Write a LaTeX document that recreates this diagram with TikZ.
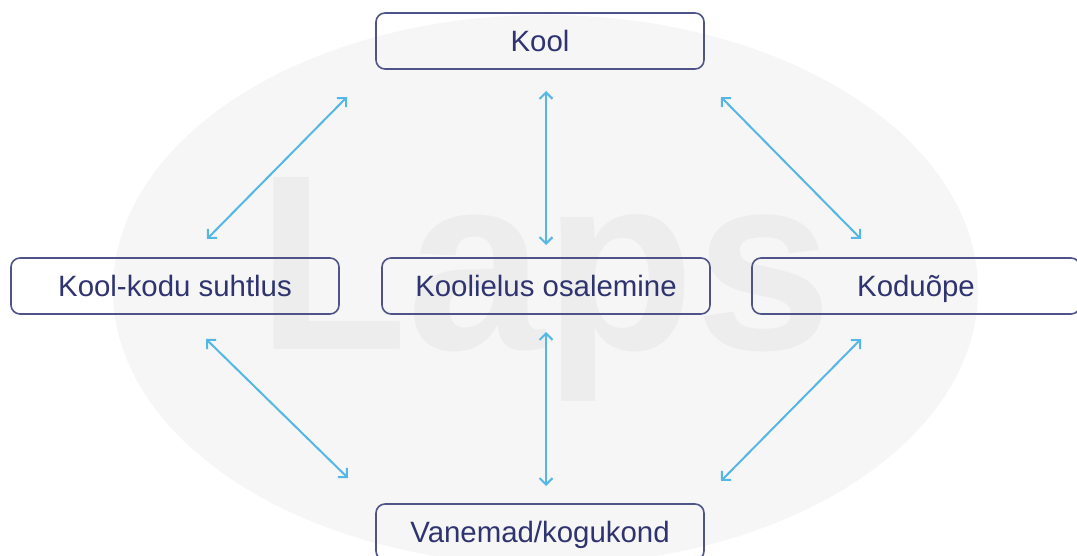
\documentclass[tikz,border=0pt]{standalone}
\usepackage{fontspec}
\setmainfont{Liberation Sans}
\usetikzlibrary{arrows.meta}
\definecolor{boxline}{HTML}{4F5488}
\definecolor{boxtext}{HTML}{2F3470}
\definecolor{arrowblue}{HTML}{55B7E6}
\definecolor{ovalfill}{HTML}{F6F6F6}
\definecolor{markfill}{HTML}{EDEDED}
\tikzset{
  x=1bp,y=-1bp,
  topicbox/.style={draw=boxline,line width=1.6bp,rounded corners=9bp,minimum width=328bp,minimum height=56bp,inner sep=0pt,text=boxtext,text height=24bp,text depth=3bp,font=\fontsize{29.4bp}{34bp}\selectfont},
  link/.style={draw=arrowblue,line width=2bp,{Straight Barb[length=6.5bp,width=13bp,line width=2bp]}-{Straight Barb[length=6.5bp,width=13bp,line width=2bp]}},
  oval/.style={fill=ovalfill,draw=none},
  watermark/.style={text=markfill,font=\bfseries\fontsize{250bp}{250bp}\selectfont,inner sep=0pt,anchor=base west}
}
\begin{document}
\begin{tikzpicture}
\useasboundingbox (0,0) rectangle (1077,556);
\clip (0,0) rectangle (1077,556);
\fill[white] (0,0) rectangle (1077,556);
\fill[oval] (545.5,290) ellipse [x radius=432.5bp,y radius=275bp];
\node[watermark] (mark) at (257,350) {\scalebox{.985}[1]{Laps}};
\node[topicbox] (kool) at (540,41) {Kool};
\node[topicbox] (suhtlus) at (175,286) {Kool-kodu suhtlus};
\node[topicbox] (osalemine) at (546,286) {Koolielus osalemine};
\node[topicbox] (kodu) at (916,286) {Koduõpe};
\node[topicbox] (vanemad) at (540,532) {Vanemad/kogukond};
\coordinate (a1) at (347,97);
\coordinate (b1) at (207,239);
\coordinate (a2) at (546,91);
\coordinate (b2) at (546,245);
\coordinate (a3) at (721,97);
\coordinate (b3) at (861,239);
\coordinate (a4) at (206,339);
\coordinate (b4) at (348,478);
\coordinate (a5) at (546,332);
\coordinate (b5) at (546,486);
\coordinate (a6) at (861,339);
\coordinate (b6) at (721,481);
\draw[link] (a1) -- (b1);
\draw[link] (a2) -- (b2);
\draw[link] (a3) -- (b3);
\draw[link] (a4) -- (b4);
\draw[link] (a5) -- (b5);
\draw[link] (a6) -- (b6);
\end{tikzpicture}
\end{document}
